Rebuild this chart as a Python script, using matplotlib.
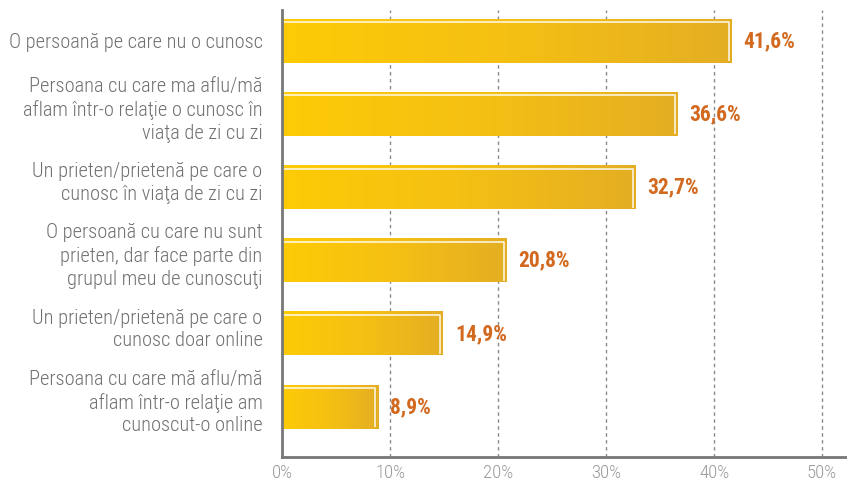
import numpy as np
import matplotlib
matplotlib.use("Agg")
import matplotlib.pyplot as plt
import matplotlib.transforms as mtransforms
from matplotlib.colors import LinearSegmentedColormap

# data (top to bottom)
categorii = [
    "O persoană pe care nu o cunosc",
    "Persoana cu care ma aflu/mă\naflam într-o relaţie o cunosc în\nviaţa de zi cu zi",
    "Un prieten/prietenă pe care o\ncunosc în viaţa de zi cu zi",
    "O persoană cu care nu sunt\nprieten, dar face parte din\ngrupul meu de cunoscuţi",
    "Un prieten/prietenă pe care o\ncunosc doar online",
    "Persoana cu care mă aflu/mă\naflam într-o relaţie am\ncunoscut-o online",
]
valori = [41.6, 36.6, 32.7, 20.8, 14.9, 8.9]
etichete_x = ["0%", "10%", "20%", "30%", "40%", "50%"]

fig = plt.figure(figsize=(8.47, 4.84), dpi=100)
ax = fig.add_axes([0.333, 0.056, 0.667, 0.923])

cmap = LinearSegmentedColormap.from_list("galben", ["#FECB06", "#F5C013", "#E4AE24"])
grad = np.linspace(0, 1, 256).reshape(1, -1)
h = 0.59

y = np.arange(len(valori))
for i, v in enumerate(valori):
    ax.imshow(grad, cmap=cmap, extent=[0, v, i + h / 2, i - h / 2],
              aspect="auto", zorder=3, interpolation="bilinear")
    # linie albă interioară (sus și dreapta)
    x_in = v - 0.25
    y_top = i - h / 2 + 0.04
    ax.plot([0, x_in, x_in], [y_top, y_top, i + h / 2 - 0.02],
            color="white", lw=1.2, alpha=0.85, zorder=4, solid_capstyle="butt")
    ax.text(v + 1.1, i, f"{v:.1f}%".replace(".", ","), va="center", ha="left",
            color="#D2691F", fontsize=15.5, fontweight="bold",
            family="Roboto Condensed", zorder=5)

ax.set_xlim(0, 52.3)
ax.set_ylim(5.68, -0.42)
ax.set_xticks([0, 10, 20, 30, 40, 50])
ax.set_xticklabels(etichete_x, family="Roboto Condensed", fontweight=300,
                   fontsize=13.5, color="#999999")
ax.set_yticks(y)
ax.set_yticklabels(categorii, family="Roboto Condensed", fontweight=300,
                   fontsize=14.7, color="#707070", linespacing=1.25)
ax.tick_params(length=0, axis="both")
ax.tick_params(axis="y", pad=14)
ax.tick_params(axis="x", pad=5)

# etichetele pe mai multe rânduri stau puțin mai sus
shift = mtransforms.ScaledTranslation(0, 6 / 72, fig.dpi_scale_trans)
for lbl in ax.get_yticklabels():
    if "\n" in lbl.get_text():
        lbl.set_transform(lbl.get_transform() + shift)

for x in [10, 20, 30, 40, 50]:
    ax.axvline(x, color="#8a8a8a", lw=1, ls=(0, (2.5, 2.5)), zorder=1)

for s in ["top", "right"]:
    ax.spines[s].set_visible(False)
for s in ["left", "bottom"]:
    ax.spines[s].set_color("#777777")
    ax.spines[s].set_linewidth(2)
    ax.spines[s].set_zorder(6)

fig.savefig("out.png", dpi=100)
